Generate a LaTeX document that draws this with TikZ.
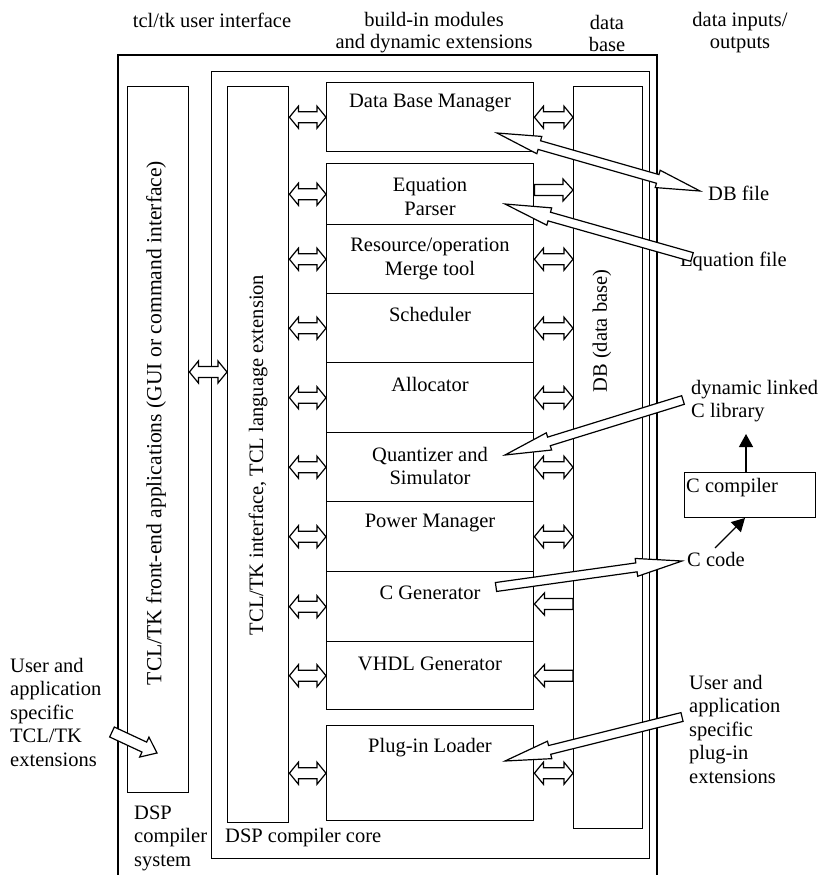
\documentclass[tikz,border=0pt]{standalone}
\usepackage{fontspec}
\setmainfont{Liberation Serif}
\usetikzlibrary{calc,arrows.meta}
\newcommand\fsz{\fontsize{20.5}{23.5}\selectfont}
% single-headed hollow block arrow: #1 tail, #2 tip, #3 half shaft, #4 half head, #5 head length
\newcommand\myblockS[5]{%
  \coordinate (tmpB) at ($(#2)!#5!(#1)$);
  \draw[blockarr] ($(#1)!#3!90:(#2)$) -- ($(tmpB)!#3!90:(#2)$) -- ($(tmpB)!#4!90:(#2)$) -- (#2)
    -- ($(tmpB)!#4!-90:(#2)$) -- ($(tmpB)!#3!-90:(#2)$) -- ($(#1)!#3!-90:(#2)$) -- cycle;
}
% double-headed hollow block arrow
\newcommand\myblockD[5]{%
  \coordinate (tmpA) at ($(#1)!#5!(#2)$);
  \coordinate (tmpB) at ($(#2)!#5!(#1)$);
  \draw[blockarr] (#1) -- ($(tmpA)!#4!90:(#2)$) -- ($(tmpA)!#3!90:(#2)$) -- ($(tmpB)!#3!90:(#2)$)
    -- ($(tmpB)!#4!90:(#2)$) -- (#2) -- ($(tmpB)!#4!-90:(#2)$) -- ($(tmpB)!#3!-90:(#2)$)
    -- ($(tmpA)!#3!-90:(#2)$) -- ($(tmpA)!#4!-90:(#2)$) -- cycle;
}
\begin{document}
\begin{tikzpicture}[x=1pt,y=-1pt,line join=miter,
  box/.style={draw,line width=1.4pt,inner sep=0pt,anchor=north west},
  modbox/.style={box,minimum width=207pt},
  lbl/.style={inner sep=0pt,font=\fsz},
  blockarr/.style={draw,fill=white,line width=1.2pt,line join=miter},
  thinarr/.style={line width=1.3pt,-{Triangle[length=13pt,width=14pt]}}]
\useasboundingbox (0,0) rectangle (818,875);

% frames
\draw[line width=1.6pt] (118,875) -- (118,55) -- (657,55) -- (657,875);
\node[box,minimum width=438pt,minimum height=787pt] (core) at (211,71) {};
\node[box,minimum width=61pt,minimum height=706pt] (fe) at (127,86) {};
\node[box,minimum width=61pt,minimum height=736pt] (iface) at (227,86) {};
\node[box,minimum width=69pt,minimum height=742pt] (db) at (573,86) {};

% modules
\node[modbox,minimum height=69pt] (dbm) at (326,82) {};
\node[modbox,minimum height=61pt] (eqp) at (326,163) {};
\node[modbox,minimum height=69pt] (res) at (326,224) {};
\node[modbox,minimum height=69pt] (sch) at (326,293) {};
\node[modbox,minimum height=70pt] (alc) at (326,362) {};
\node[modbox,minimum height=69pt] (qnt) at (326,432) {};
\node[modbox,minimum height=70pt] (pwr) at (326,501) {};
\node[modbox,minimum height=70pt] (cgn) at (326,571) {};
\node[modbox,minimum height=68pt] (vhd) at (326,641) {};
\node[modbox,minimum height=95pt] (plg) at (326,725) {};

% C compiler box
\node[box,minimum width=131pt,minimum height=45pt] (ccomp) at (684,472) {};

% module texts
\node[lbl] (dbmt) at (430,103) {Data Base Manager};
\node[lbl,align=center] (eqpt) at (430,197) {Equation\\Parser};
\node[lbl,align=center] (rest) at (430,259) {Resource/operation\\Merge tool};
\node[lbl] (scht) at (430,314) {Scheduler};
\node[lbl] (alct) at (430,384) {Allocator};
\node[lbl,align=center] (qntt) at (430,466) {Quantizer and\\Simulator};
\node[lbl] (pwrt) at (430,523) {Power Manager};
\node[lbl] (cgnt) at (430,593) {C Generator};
\node[lbl] (vhdt) at (430,664) {VHDL Generator};
\node[lbl] (plgt) at (430,748) {Plug-in Loader};

% rotated texts
\node[lbl,rotate=90,font=\fontsize{21.6}{24}\selectfont] (fet) at (156,423) {TCL/TK front-end applications (GUI or command interface)};
\node[lbl,rotate=90] (ift) at (258,455) {TCL/TK interface, TCL language extension};
\node[lbl,rotate=90] (dbt) at (602,331) {DB (data base)};

% header labels
\node[lbl] (h1) at (212,20) {tcl/tk user interface};
\node[lbl,align=center,font=\fontsize{20.5}{22}\selectfont] (h2) at (434,33) {build-in modules\\and dynamic extensions};
\node[lbl,align=center,font=\fontsize{20.5}{22}\selectfont] (h3) at (607,33) {data\\base};
\node[lbl,align=center,font=\fontsize{20.5}{22}\selectfont] (h4) at (740,33) {data inputs/\\outputs};

% other labels
\node[lbl,align=left,anchor=west] (sys) at (134,838) {DSP\\compiler\\system};
\node[lbl,anchor=west] (coret) at (225,838) {DSP compiler core};
\node[lbl,align=left,anchor=west] (uext) at (10,712) {User and\\application\\specific\\TCL/TK\\extensions};
\node[lbl,align=left,anchor=west] (pext) at (689,729) {User and\\application\\specific\\plug-in\\extensions};
\node[lbl,anchor=west] (dbf) at (708,193) {DB file};
\node[lbl,anchor=west] (eqf) at (680,261) {Equation file};
\node[lbl,align=left,anchor=west] (dyn) at (691,401) {dynamic linked\\C library};
\node[lbl,anchor=west] (ccode) at (687,559) {C code};
\node[lbl,anchor=west] (ccompt) at (686,488) {C compiler};

% small block arrows, interface <-> modules
\foreach \m in {dbm,eqp,res,sch,alc,qnt,pwr,cgn,vhd,plg}{
  \coordinate (\m-L) at (iface.east |- \m.west);
  \myblockD{\m-L}{\m.west}{5.5pt}{11pt}{9pt}
}
% modules <-> data base
\foreach \m in {dbm,res,sch,alc,qnt,pwr,plg}{
  \coordinate (\m-R) at (db.west |- \m.east);
  \myblockD{\m.east}{\m-R}{5.5pt}{11pt}{9pt}
}
\coordinate (eqp-R) at (db.west |- 0,190);
\coordinate (eqp-E) at (eqp.east |- 0,190);
\myblockS{eqp-E}{eqp-R}{5.5pt}{11pt}{10pt}
\coordinate (cgn-R) at (db.west |- 0,604);
\coordinate (cgn-E) at (cgn.east |- 0,604);
\myblockS{cgn-R}{cgn-E}{5.5pt}{11pt}{10pt}
\coordinate (vhd-R) at (db.west |- vhd.east);
\myblockS{vhd-R}{vhd.east}{5.5pt}{11pt}{10pt}
% front-end <-> interface
\coordinate (fi1) at (fe.east |- 0,372);
\coordinate (fi2) at (iface.west |- 0,372);
\myblockD{fi1}{fi2}{5.5pt}{11pt}{9pt}

% big block arrows
\coordinate (dbfA) at (497,133);
\coordinate (dbfB) at (700,191);
\myblockD{dbfA}{dbfB}{4.5pt}{9pt}{44pt}
\coordinate (eqfA) at (692,257);
\coordinate (eqfB) at (505,204);
\myblockS{eqfA}{eqfB}{4.5pt}{9pt}{46pt}
\coordinate (dynA) at (683,400);
\coordinate (dynB) at (505,455);
\myblockS{dynA}{dynB}{4.5pt}{9pt}{46pt}
\coordinate (ccA) at (496,587);
\coordinate (ccB) at (682,561);
\myblockS{ccA}{ccB}{4.5pt}{9pt}{46pt}
\coordinate (plA) at (682,717);
\coordinate (plB) at (505,761);
\myblockS{plA}{plB}{4.5pt}{9pt}{46pt}
\coordinate (teA) at (112,732);
\coordinate (teB) at (157,753);
\myblockS{teA}{teB}{5.5pt}{11pt}{14pt}

% thin arrows
\coordinate (cc1) at (715,548);
\coordinate (cc2) at (745,518);
\draw[thinarr] (cc1) -- (cc2);
\coordinate (cu1) at (ccomp.north -| 746,0);
\coordinate (cu2) at (746,434);
\draw[thinarr] (cu1) -- (cu2);
\end{tikzpicture}
\end{document}
